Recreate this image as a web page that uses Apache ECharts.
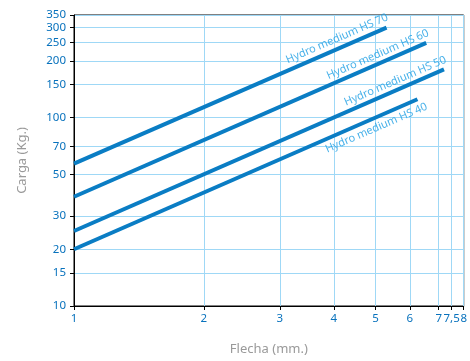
<!DOCTYPE html>
<html><head><meta charset="utf-8">
<script src="https://cdn.jsdelivr.net/npm/echarts@6/dist/echarts.min.js"></script>
<style>html,body{margin:0;padding:0;background:#fff}#c{width:470px;height:361px}</style>
</head><body><div id="c"></div>
<script>
const xTicks = [1, 2, 3, 4, 5, 6, 7, 7.5, 8];
const yTicks = [10, 15, 20, 30, 50, 70, 100, 150, 200, 250, 300, 350];
const seriesNames = ['Hydro medium HS 40', 'Hydro medium HS 50', 'Hydro medium HS 60', 'Hydro medium HS 70'];
const hs40 = [[1, 20], [6.25, 125]];
const hs50 = [[1, 25], [7.2, 180]];
const hs60 = [[1, 38], [6.55, 249]];
const hs70 = [[1, 57], [5.3, 300]];
const labelX = [5.02, 5.55, 5.06, 4.07];
const labelY = [88, 156, 216, 262];

const lineColor = '#0a7dc4';
const gridColor = '#9fd8f6';
const tickColor = '#0872bd';
const lines = [hs40, hs50, hs60, hs70];

const series = lines.map((d, i) => ({
  type: 'line', name: seriesNames[i], data: d, symbol: 'none', silent: true,
  lineStyle: { color: lineColor, width: 4, cap: 'butt' }
}));
series.push({
  type: 'scatter', symbolSize: 0, silent: true,
  data: seriesNames.map((n, i) => ({ value: [labelX[i], labelY[i]], name: n })),
  label: {
    show: true, position: 'inside', rotate: 23.4, formatter: p => p.name,
    color: '#1a9de4', fontSize: 11, fontFamily: 'Noto Sans'
  }
});

const chart = echarts.init(document.getElementById('c'), null, { renderer: 'canvas' });
chart.setOption({
  animation: false,
  grid: { left: 74, right: 2, top: 15, bottom: 53, show: true, borderColor: '#000', borderWidth: 1, backgroundColor: 'transparent' },
  xAxis: {
    type: 'log', logBase: 10, min: 1, max: 8,
    name: 'Flecha (mm.)', nameLocation: 'middle', nameGap: 37,
    nameTextStyle: { color: '#9a9a9a', fontSize: 13, fontFamily: 'Noto Sans' },
    axisLine: { show: true, lineStyle: { color: '#000', width: 1 } },
    axisTick: { show: true, length: 4, lineStyle: { color: '#000' }, customValues: xTicks },
    axisLabel: { color: tickColor, fontSize: 11.5, fontFamily: 'Noto Sans', margin: 7, customValues: xTicks,
      formatter: v => String(v).replace('.', ',') },
    splitLine: { show: true, lineStyle: { color: gridColor, width: 1 } },
    minorSplitLine: { show: false }
  },
  yAxis: {
    type: 'log', logBase: 10, min: 10, max: 350,
    name: 'Carga (Kg.)', nameLocation: 'middle', nameGap: 45, nameRotate: 90,
    nameTextStyle: { color: '#9a9a9a', fontSize: 13, fontFamily: 'Noto Sans' },
    axisLine: { show: true, lineStyle: { color: '#000', width: 1 } },
    axisTick: { show: true, length: 4, lineStyle: { color: '#000' }, customValues: yTicks },
    axisLabel: { color: tickColor, fontSize: 11.5, fontFamily: 'Noto Sans', margin: 8, customValues: yTicks },
    splitLine: { show: true, lineStyle: { color: gridColor, width: 1 } }
  },
  series: series
});
</script></body></html>
